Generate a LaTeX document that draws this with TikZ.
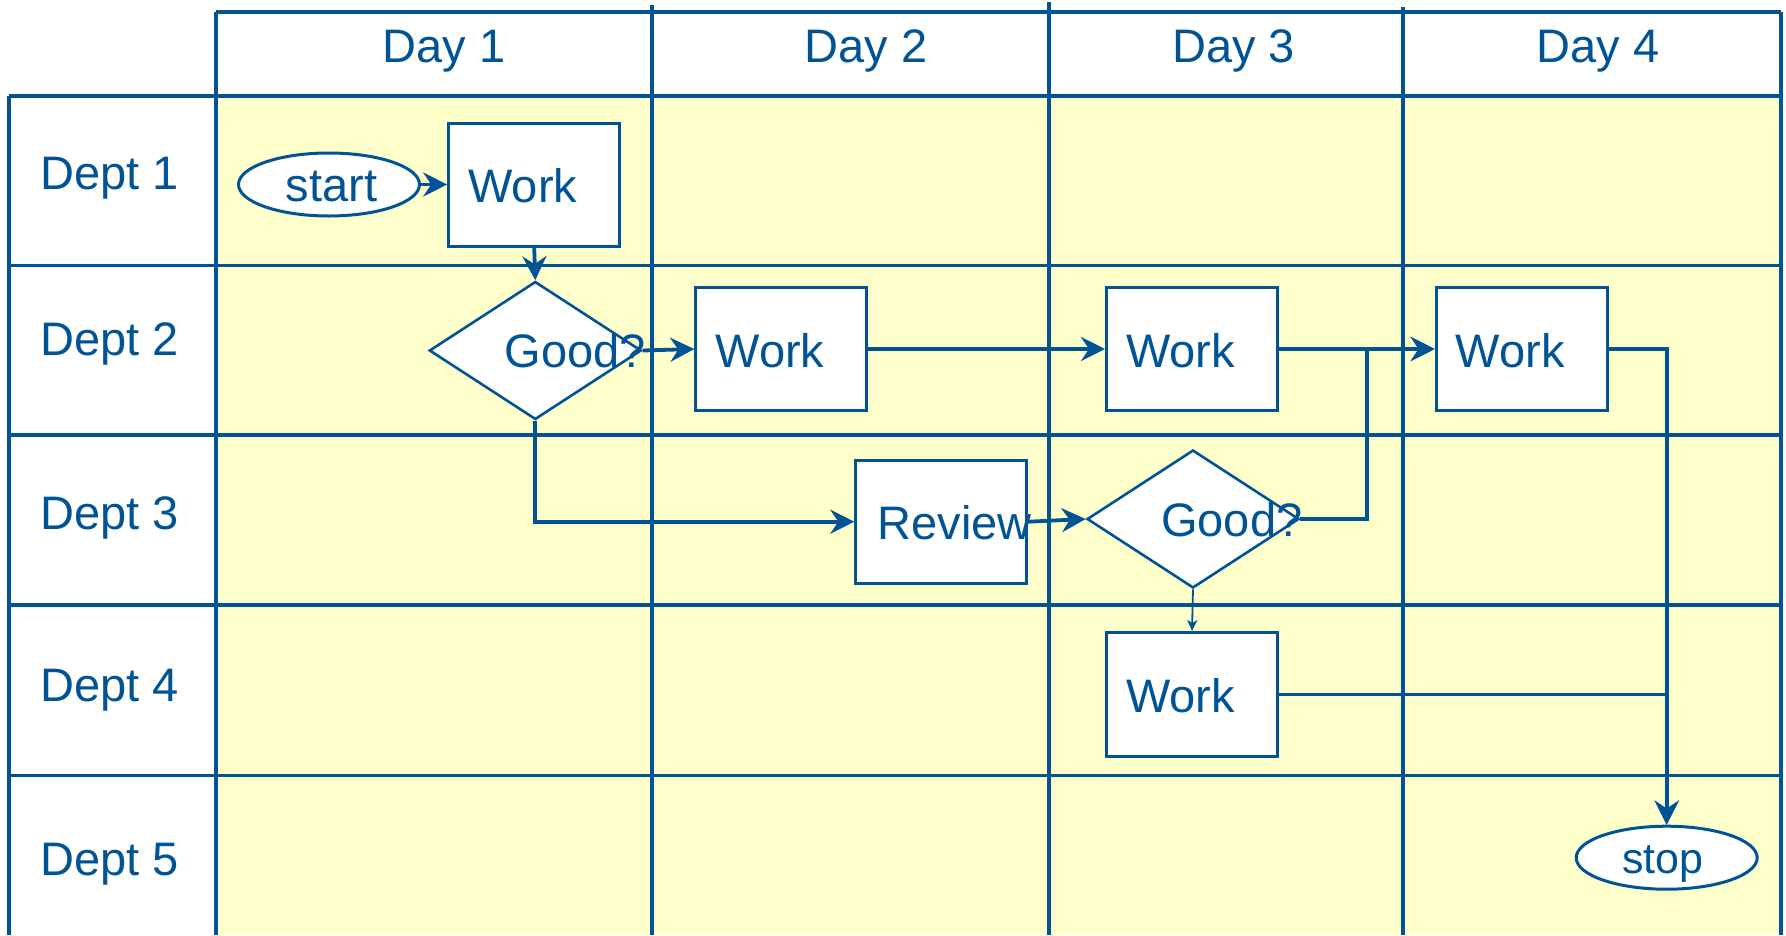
\documentclass[tikz,border=0pt]{standalone}
\usepackage{fontspec}
\setmainfont{Liberation Sans}
\usetikzlibrary{shapes.geometric,arrows.meta}
\definecolor{ink}{RGB}{0,84,150}
\definecolor{lane}{RGB}{255,255,204}
\newcommand\lanefont{\fontsize{47pt}{56pt}\selectfont}
\newcommand\termfont{\fontsize{43pt}{52pt}\selectfont}
\tikzset{
  gridline/.style={draw=ink, line width=3.2pt},
  workbox/.style={rectangle, draw=ink, fill=white, line width=3pt,
    minimum width=171pt, minimum height=123pt, inner sep=0pt},
  decision/.style={diamond, draw=ink, fill=white, line width=2.6pt,
    minimum width=212pt, minimum height=138pt, inner sep=0pt},
  terminal/.style={ellipse, draw=ink, fill=white, line width=3pt,
    minimum width=181pt, minimum height=63pt, inner sep=0pt},
  lbl/.style={text=ink, font=\lanefont, inner sep=0pt},
  flow/.style={draw=ink, line width=3.8pt,
    -{Stealth[length=24pt,width=24pt,inset=8pt]}},
  thinflow/.style={draw=ink, line width=1.8pt,
    -{Stealth[length=11pt,width=10pt,inset=3pt]}},
}
\begin{document}
\begin{tikzpicture}[x=1pt,y=-1pt]
\useasboundingbox (0,0) rectangle (1786,935);
\fill[white] (0,0) rectangle (1786,935);

% lanes
\fill[lane] (216,96) rectangle (1781,935);

% header frame and column rules
\draw[gridline] (216,12) -- (1781,12);
\draw[gridline] (216,12) -- (216,935);
\draw[gridline] (1781,12) -- (1781,935);
\draw[gridline] (652,5) -- (652,935);
\draw[gridline] (1049,2) -- (1049,935);
\draw[gridline] (1403,7) -- (1403,935);
\draw[gridline] (9,96) -- (9,935);

% row rules
\foreach \y in {96,265.5,435,605,775.5}
  \draw[gridline] (9,\y) -- (1781,\y);

% column headings
\node[lbl, anchor=base] (d1) at (444,62) {Day 1};
\node[lbl, anchor=base] (d2) at (866,62) {Day 2};
\node[lbl, anchor=base] (d3) at (1233.5,62) {Day 3};
\node[lbl, anchor=base] (d4) at (1598,62) {Day 4};

% row headings
\node[lbl, anchor=base west] (p1) at (40.5,189.3) {Dept 1};
\node[lbl, anchor=base west] (p2) at (40.5,355.7) {Dept 2};
\node[lbl, anchor=base west] (p3) at (40.5,529) {Dept 3};
\node[lbl, anchor=base west] (p4) at (40.5,701.7) {Dept 4};
\node[lbl, anchor=base west] (p5) at (40.5,875.7) {Dept 5};

% shapes
\node[terminal] (start) at (329,184.5) {};
\node[workbox] (w1) at (534.2,184.5) {};
\node[decision] (g1) at (535.3,350.5) {};
\node[workbox] (w2) at (781.3,349) {};
\node[workbox] (w3) at (1192,349) {};
\node[workbox] (w4) at (1521.7,349) {};
\node[workbox] (rev) at (941.3,521.7) {};
\node[decision] (g2) at (1193,519) {};
\node[workbox, minimum height=124pt] (w5) at (1192,694.5) {};
\node[terminal] (stop) at (1666.7,857.7) {};

% connectors
\coordinate (merge) at (1367,0);
\draw[flow] (start.east) -- (w1.west);
\draw[flow] (w1.south) -- (g1.north);
\draw[flow] (g1.east) -- (w2.west);
\draw[flow] (w2.east) -- (w3.west);
\draw[flow] (w3.east) -- (w4.west);
\draw[flow] (g1.south) |- (rev.west);
\draw[flow] (rev.east) -- (g2.west);
\draw[flow] (g2.east) -- (g2.east -| merge) |- (w4.west);
\draw[flow] (w4.east) -| (stop.north);
\draw[flow] (w5.east) -| (stop.north);
\draw[thinflow] (g2.south) -- (w5.north);

% shape texts
\node[lbl, anchor=base] (startt) at ([shift={(2.5pt,-16.5pt)}]start.center) {start};
\node[lbl, anchor=base west] (w1t) at ([shift={(21pt,-18pt)}]w1.west) {Work};
\node[lbl, anchor=base west] (g1t) at ([shift={(-31pt,-16.8pt)}]g1.center) {Good?};
\node[lbl, anchor=base west] (w2t) at ([shift={(21pt,-18pt)}]w2.west) {Work};
\node[lbl, anchor=base west] (w3t) at ([shift={(21pt,-18pt)}]w3.west) {Work};
\node[lbl, anchor=base west] (w4t) at ([shift={(21pt,-18pt)}]w4.west) {Work};
\node[lbl, anchor=base west] (revt) at ([shift={(23pt,-17.6pt)}]rev.west) {Review};
\node[lbl, anchor=base west] (g2t) at ([shift={(-32pt,-17.7pt)}]g2.center) {Good?};
\node[lbl, anchor=base west] (w5t) at ([shift={(21pt,-18pt)}]w5.west) {Work};
\node[lbl, font=\termfont, anchor=base] (stopt) at ([shift={(-4pt,-15.6pt)}]stop.center) {stop};
\end{tikzpicture}
\end{document}
